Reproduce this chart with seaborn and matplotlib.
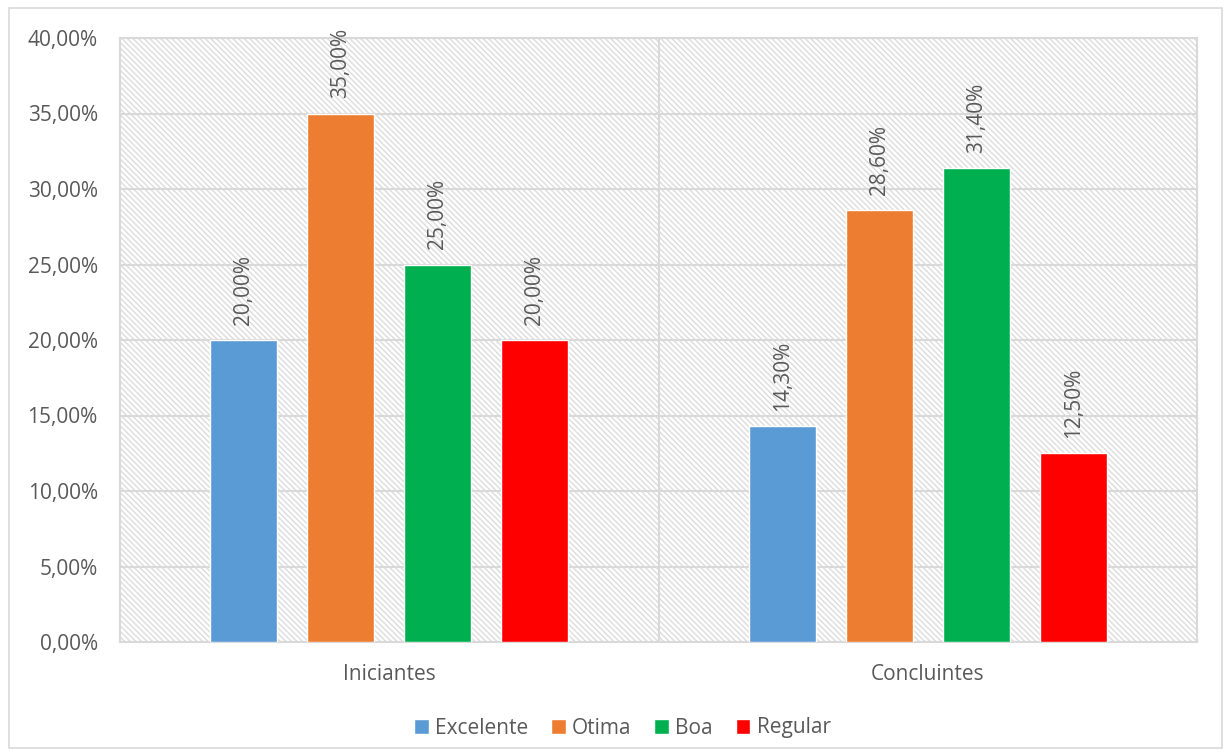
import matplotlib
matplotlib.use("Agg")
import matplotlib.pyplot as plt
from matplotlib.patches import Rectangle
from matplotlib.ticker import FuncFormatter, FixedLocator
import seaborn as sns
import pandas as pd

groups = ["Iniciantes", "Concluintes"]
series = ["Excelente", "Otima", "Boa", "Regular"]
iniciantes = [0.20, 0.35, 0.25, 0.20]
concluintes = [0.143, 0.286, 0.314, 0.125]
colors = ["#5B9BD5", "#ED7D31", "#00B050", "#FF0000"]
y_ticks = [0.0, 0.05, 0.10, 0.15, 0.20, 0.25, 0.30, 0.35, 0.40]

rows = []
for g, vals in zip(groups, [iniciantes, concluintes]):
    for s, v in zip(series, vals):
        rows.append({"grupo": g, "avaliacao": s, "valor": v})
df = pd.DataFrame(rows)

sns.set_theme(style="white")
plt.rcParams["font.family"] = ["Open Sans", "DejaVu Sans"]
plt.rcParams["hatch.linewidth"] = 1.0
plt.rcParams["hatch.color"] = "#dcdcdc"

TXT = "#595959"
GRID = "#d9d9d9"
FS = 15

fig = plt.figure(figsize=(12.3, 7.56), dpi=100)
ax = fig.add_axes([120 / 1230, 1 - 642 / 756, (1197 - 120) / 1230, (642 - 38) / 756])

# hatched plot-area background
ax.add_patch(Rectangle((0, 0), 1, 1, transform=ax.transAxes, facecolor="white",
                       edgecolor="#dcdcdc", hatch="\\" * 6, linewidth=0, zorder=0))

sns.barplot(data=df, x="grupo", y="valor", hue="avaliacao", order=groups,
            hue_order=series, palette=colors, width=0.72, gap=0.31,
            saturation=1, errorbar=None, ax=ax, legend=True, zorder=3)

ax.set_xlim(-0.5, 1.5)
ax.set_ylim(0, 0.40)
ax.yaxis.set_major_locator(FixedLocator(y_ticks))
ax.yaxis.set_major_formatter(FuncFormatter(lambda v, p: f"{v*100:.2f}%".replace(".", ",")))
ax.xaxis.set_minor_locator(FixedLocator([0.5]))
ax.grid(axis="y", which="major", color=GRID, linewidth=1.5, zorder=1)
ax.grid(axis="x", which="minor", color=GRID, linewidth=1.5, zorder=1)
ax.grid(axis="x", which="major", visible=False)
ax.set_axisbelow(True)
for sp in ax.spines.values():
    sp.set_color(GRID)
    sp.set_linewidth(1.5)
ax.tick_params(axis="both", which="both", length=0, colors=TXT, labelsize=FS)
ax.tick_params(axis="y", pad=16)
ax.tick_params(axis="x", pad=16)
ax.set_xlabel("")
ax.set_ylabel("")

for cont in ax.containers:
    ax.bar_label(cont, labels=[f"{b.get_height()*100:.2f}%".replace(".", ",") for b in cont],
                 rotation=90, padding=11, color=TXT, fontsize=FS)

handles, labels = ax.get_legend_handles_labels()
ax.get_legend().remove()
fig.legend(handles, labels, loc="center", bbox_to_anchor=(0.506, 1 - 728 / 756), ncol=4,
           frameon=False, fontsize=FS, labelcolor=TXT, handlelength=0.7, handleheight=0.7,
           handletextpad=0.3, columnspacing=1.1)

fig.patches.append(Rectangle((9 / 1230, 8 / 756), (1222 - 9) / 1230, (748 - 8) / 756,
                             transform=fig.transFigure, fill=False, edgecolor=GRID,
                             linewidth=1.2))

fig.savefig("out.png", dpi=100)
